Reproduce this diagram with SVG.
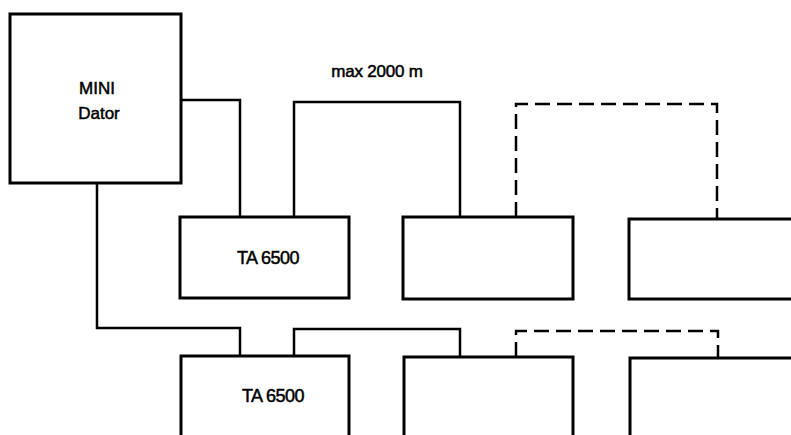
<svg xmlns="http://www.w3.org/2000/svg" width="791" height="435" viewBox="0 0 791 435">
<style>
.box{fill:none;stroke:#000;stroke-width:3}
.ln{fill:none;stroke:#000;stroke-width:2.5;stroke-linejoin:miter}
.dash{fill:none;stroke:#000;stroke-width:2.5;stroke-dasharray:15 7}
.t{font-family:"Liberation Sans",Arial,sans-serif;fill:#000;stroke:#000;stroke-width:0.5;text-anchor:middle}
</style>
<rect width="791" height="435" fill="#fff"/>
<g id="connectors">
<path class="ln" d="M181,100 H240 V217"/>
<path class="ln" d="M294,217 V102 H460 V217"/>
<path class="dash" d="M516,217 V104 H717 V219"/>
<path class="ln" d="M97,183 V328 H240 V356"/>
<path class="ln" d="M294,356 V329 H460 V357"/>
<path class="dash" d="M516,357 V331 H718 V358"/>
</g>
<g id="label-max">
<text class="t" x="377" y="77" font-size="17" letter-spacing="-0.2">max 2000 m</text>
</g>
<g id="mini-dator">
<rect class="box" x="10" y="14" width="171" height="169"/>
<text class="t" x="97" y="94" font-size="17">MINI</text>
<text class="t" x="99" y="119" font-size="17">Dator</text>
</g>
<g id="ta1">
<rect class="box" x="180" y="217" width="169" height="81"/>
<text class="t" x="268" y="264" font-size="18" letter-spacing="-0.5">TA 6500</text>
</g>
<g id="box2">
<rect class="box" x="403" y="217" width="170" height="82"/>
</g>
<g id="box3">
<rect class="box" x="629" y="219" width="180" height="80"/>
</g>
<g id="ta2">
<rect class="box" x="181" y="356" width="168" height="100"/>
<text class="t" x="273" y="402" font-size="18" letter-spacing="-0.5">TA 6500</text>
</g>
<g id="box5">
<rect class="box" x="404" y="357" width="169" height="100"/>
</g>
<g id="box6">
<rect class="box" x="630" y="358" width="180" height="100"/>
</g>
</svg>
